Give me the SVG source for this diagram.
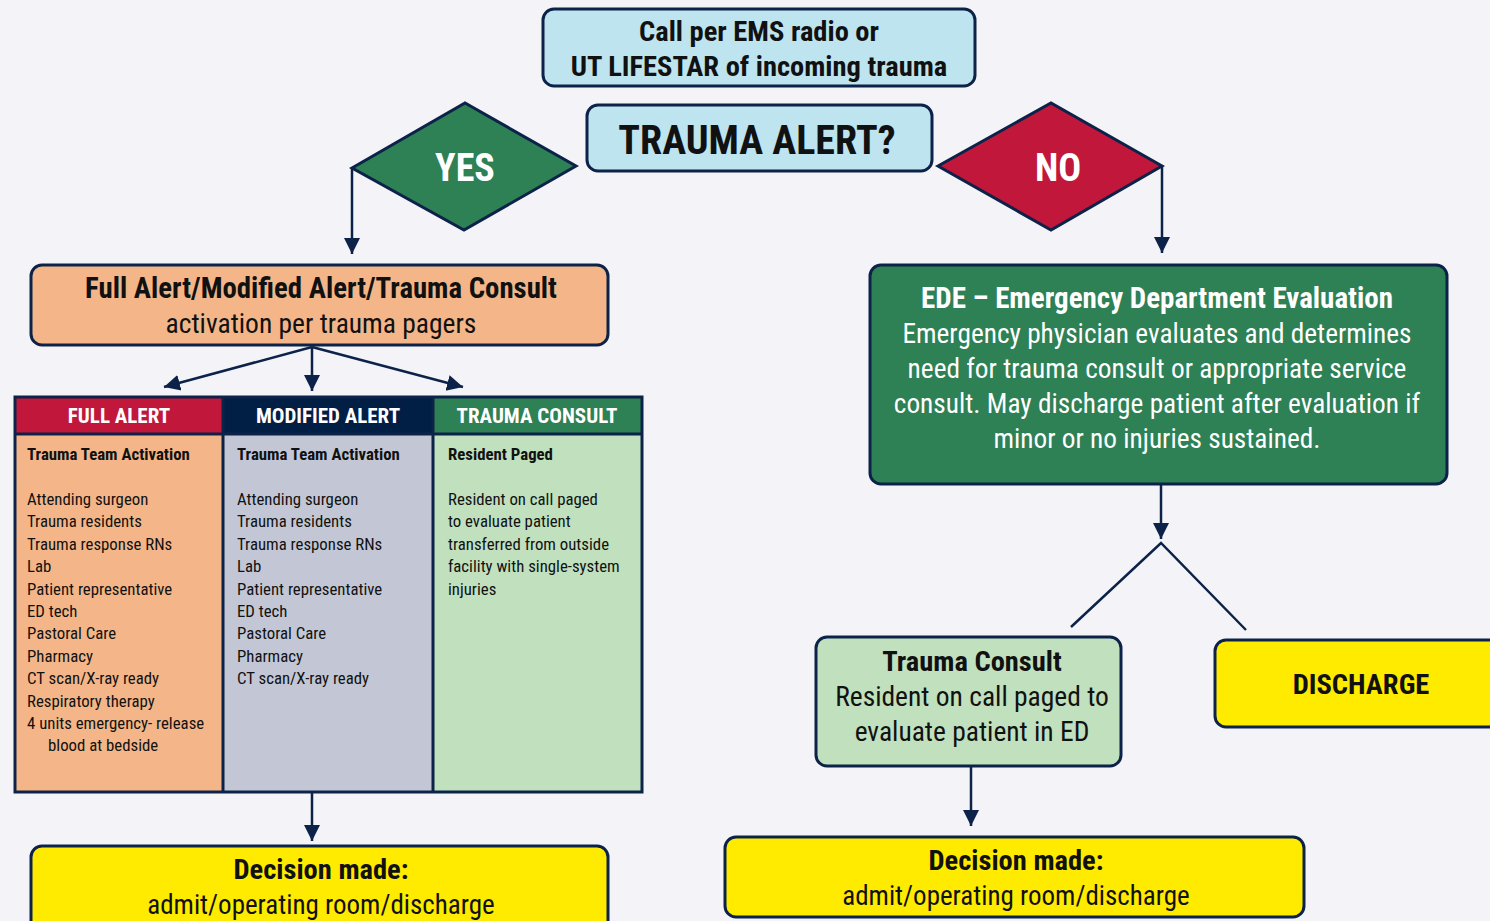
<svg xmlns="http://www.w3.org/2000/svg" width="1490" height="921" viewBox="0 0 1490 921">
<style>
text{font-family:"Liberation Sans Narrow","Roboto Condensed","DejaVu Sans Condensed","Arial Narrow",sans-serif;font-stretch:condensed;fill:#111;}
.b{font-weight:bold;}
.w{fill:#fff;}
.c{text-anchor:middle;}
.box{stroke:#0c2249;stroke-width:3;}
.ln{stroke:#0c2249;stroke-width:2.5;fill:none;}
.s16{font-size:16.8px;}
.h{font-size:21px;}
</style>
<defs>
<marker id="ahl" viewBox="0 0 10 10" refX="10" refY="5" markerWidth="16" markerHeight="20" markerUnits="userSpaceOnUse" orient="auto">
<path d="M0,0 L10,5 L0,10 z" fill="#0c2249"/>
</marker>
</defs>
<rect width="1490" height="921" fill="#f4f4f8"/>

<g id="connectors">
<path class="ln" d="M352,168 V254" marker-end="url(#ahl)"/>
<path class="ln" d="M1162,166 V253" marker-end="url(#ahl)"/>
<path class="ln" d="M312,347 L164,387" marker-end="url(#ahl)"/>
<path class="ln" d="M312,347 V391" marker-end="url(#ahl)"/>
<path class="ln" d="M312,347 L463,387" marker-end="url(#ahl)"/>
<path class="ln" d="M312,793 V841" marker-end="url(#ahl)"/>
<path class="ln" d="M1161,485 V539" marker-end="url(#ahl)"/>
<path class="ln" d="M1071,627 L1161,543 L1246,630"/>
<path class="ln" d="M971,767 V826" marker-end="url(#ahl)"/>
</g>

<g id="call">
<rect class="box" x="543" y="9" width="432" height="77" rx="11" fill="#bde4ef"/>
<text class="b c" x="759" y="41" font-size="28.5">Call per EMS radio or</text>
<text class="b c" x="759" y="76" font-size="28.5">UT LIFESTAR of incoming trauma</text>
</g>

<g id="alert">
<rect class="box" x="587" y="105" width="345" height="66" rx="11" fill="#bde4ef"/>
<text class="b c" x="757" y="154" font-size="40">TRAUMA ALERT?</text>
</g>

<g id="yes">
<polygon class="box" points="352,168 465,103 576,166 464,230" fill="#2e8055"/>
<text class="b c w" x="465" y="181" font-size="38">YES</text>
</g>

<g id="no">
<polygon class="box" points="938,166 1051,103 1162,166 1051,230" fill="#c0173a"/>
<text class="b c w" x="1058" y="181" font-size="38">NO</text>
</g>

<g id="activation">
<rect class="box" x="31" y="265" width="577" height="80" rx="11" fill="#f4b688"/>
<text class="b c" x="321" y="298" font-size="28.8">Full Alert/Modified Alert/Trauma Consult</text>
<text class="c" x="321" y="333" font-size="27.5">activation per trauma pagers</text>
</g>

<g id="full-alert">
<rect x="15" y="397" width="208" height="395" fill="#f4b688"/>
<rect x="15" y="397" width="208" height="37" fill="#c0173a"/>
<text class="b c w h" x="119" y="423">FULL ALERT</text>
<text class="b s16" x="27" y="460">Trauma Team Activation</text>
<text class="s16" x="27" y="505">Attending surgeon</text>
<text class="s16" x="27" y="527">Trauma residents</text>
<text class="s16" x="27" y="550">Trauma response RNs</text>
<text class="s16" x="27" y="572">Lab</text>
<text class="s16" x="27" y="595">Patient representative</text>
<text class="s16" x="27" y="617">ED tech</text>
<text class="s16" x="27" y="639">Pastoral Care</text>
<text class="s16" x="27" y="662">Pharmacy</text>
<text class="s16" x="27" y="684">CT scan/X-ray ready</text>
<text class="s16" x="27" y="707">Respiratory therapy</text>
<text class="s16" x="27" y="729">4 units emergency- release</text>
<text class="s16" x="48" y="751">blood at bedside</text>
</g>

<g id="modified-alert">
<rect x="223" y="397" width="210" height="395" fill="#c3c7d5"/>
<rect x="223" y="397" width="210" height="37" fill="#011e45"/>
<text class="b c w h" x="328" y="423">MODIFIED ALERT</text>
<text class="b s16" x="237" y="460">Trauma Team Activation</text>
<text class="s16" x="237" y="505">Attending surgeon</text>
<text class="s16" x="237" y="527">Trauma residents</text>
<text class="s16" x="237" y="550">Trauma response RNs</text>
<text class="s16" x="237" y="572">Lab</text>
<text class="s16" x="237" y="595">Patient representative</text>
<text class="s16" x="237" y="617">ED tech</text>
<text class="s16" x="237" y="639">Pastoral Care</text>
<text class="s16" x="237" y="662">Pharmacy</text>
<text class="s16" x="237" y="684">CT scan/X-ray ready</text>
</g>

<g id="trauma-consult-col">
<rect x="433" y="397" width="209" height="395" fill="#c0e0be"/>
<rect x="433" y="397" width="209" height="37" fill="#2e8055"/>
<text class="b c w h" x="537" y="423">TRAUMA CONSULT</text>
<text class="b s16" x="448" y="460">Resident Paged</text>
<text class="s16" x="448" y="505">Resident on call paged</text>
<text class="s16" x="448" y="527">to evaluate patient</text>
<text class="s16" x="448" y="550">transferred from outside</text>
<text class="s16" x="448" y="572">facility with single-system</text>
<text class="s16" x="448" y="595">injuries</text>
</g>
<g id="table-frame">
<rect x="15" y="397" width="627" height="395" fill="none" stroke="#0c2249" stroke-width="3"/>
<line x1="223" y1="397" x2="223" y2="792" stroke="#0c2249" stroke-width="3"/>
<line x1="433" y1="397" x2="433" y2="792" stroke="#0c2249" stroke-width="3"/>
<line x1="15" y1="434" x2="642" y2="434" stroke="#0c2249" stroke-width="3"/>
</g>

<g id="decision-left">
<rect class="box" x="31" y="846" width="577" height="90" rx="11" fill="#ffeb00"/>
<text class="b c" x="321" y="879" font-size="28.5">Decision made:</text>
<text class="c" x="321" y="914" font-size="27">admit/operating room/discharge</text>
</g>

<g id="ede">
<rect class="box" x="870" y="265" width="577" height="219" rx="11" fill="#2e8055"/>
<text class="b c w" x="1157" y="308" font-size="29">EDE – Emergency Department Evaluation</text>
<text class="c w" x="1157" y="343" font-size="27.3">Emergency physician evaluates and determines</text>
<text class="c w" x="1157" y="378" font-size="27.3">need for trauma consult or appropriate service</text>
<text class="c w" x="1157" y="413" font-size="27.3">consult. May discharge patient after evaluation if</text>
<text class="c w" x="1157" y="448" font-size="27.3">minor or no injuries sustained.</text>
</g>

<g id="trauma-consult">
<rect class="box" x="816" y="637" width="305" height="129" rx="11" fill="#c0e0be"/>
<text class="b c" x="972" y="671" font-size="28.5">Trauma Consult</text>
<text class="c" x="972" y="706" font-size="27.5">Resident on call paged to</text>
<text class="c" x="972" y="741" font-size="27.5">evaluate patient in ED</text>
</g>

<g id="discharge">
<rect class="box" x="1215" y="640" width="290" height="87" rx="11" fill="#ffeb00"/>
<text class="b c" x="1361" y="694" font-size="28.5">DISCHARGE</text>
</g>

<g id="decision-right">
<rect class="box" x="725" y="837" width="579" height="80" rx="11" fill="#ffeb00"/>
<text class="b c" x="1016" y="870" font-size="28.5">Decision made:</text>
<text class="c" x="1016" y="905" font-size="27">admit/operating room/discharge</text>
</g>
</svg>
